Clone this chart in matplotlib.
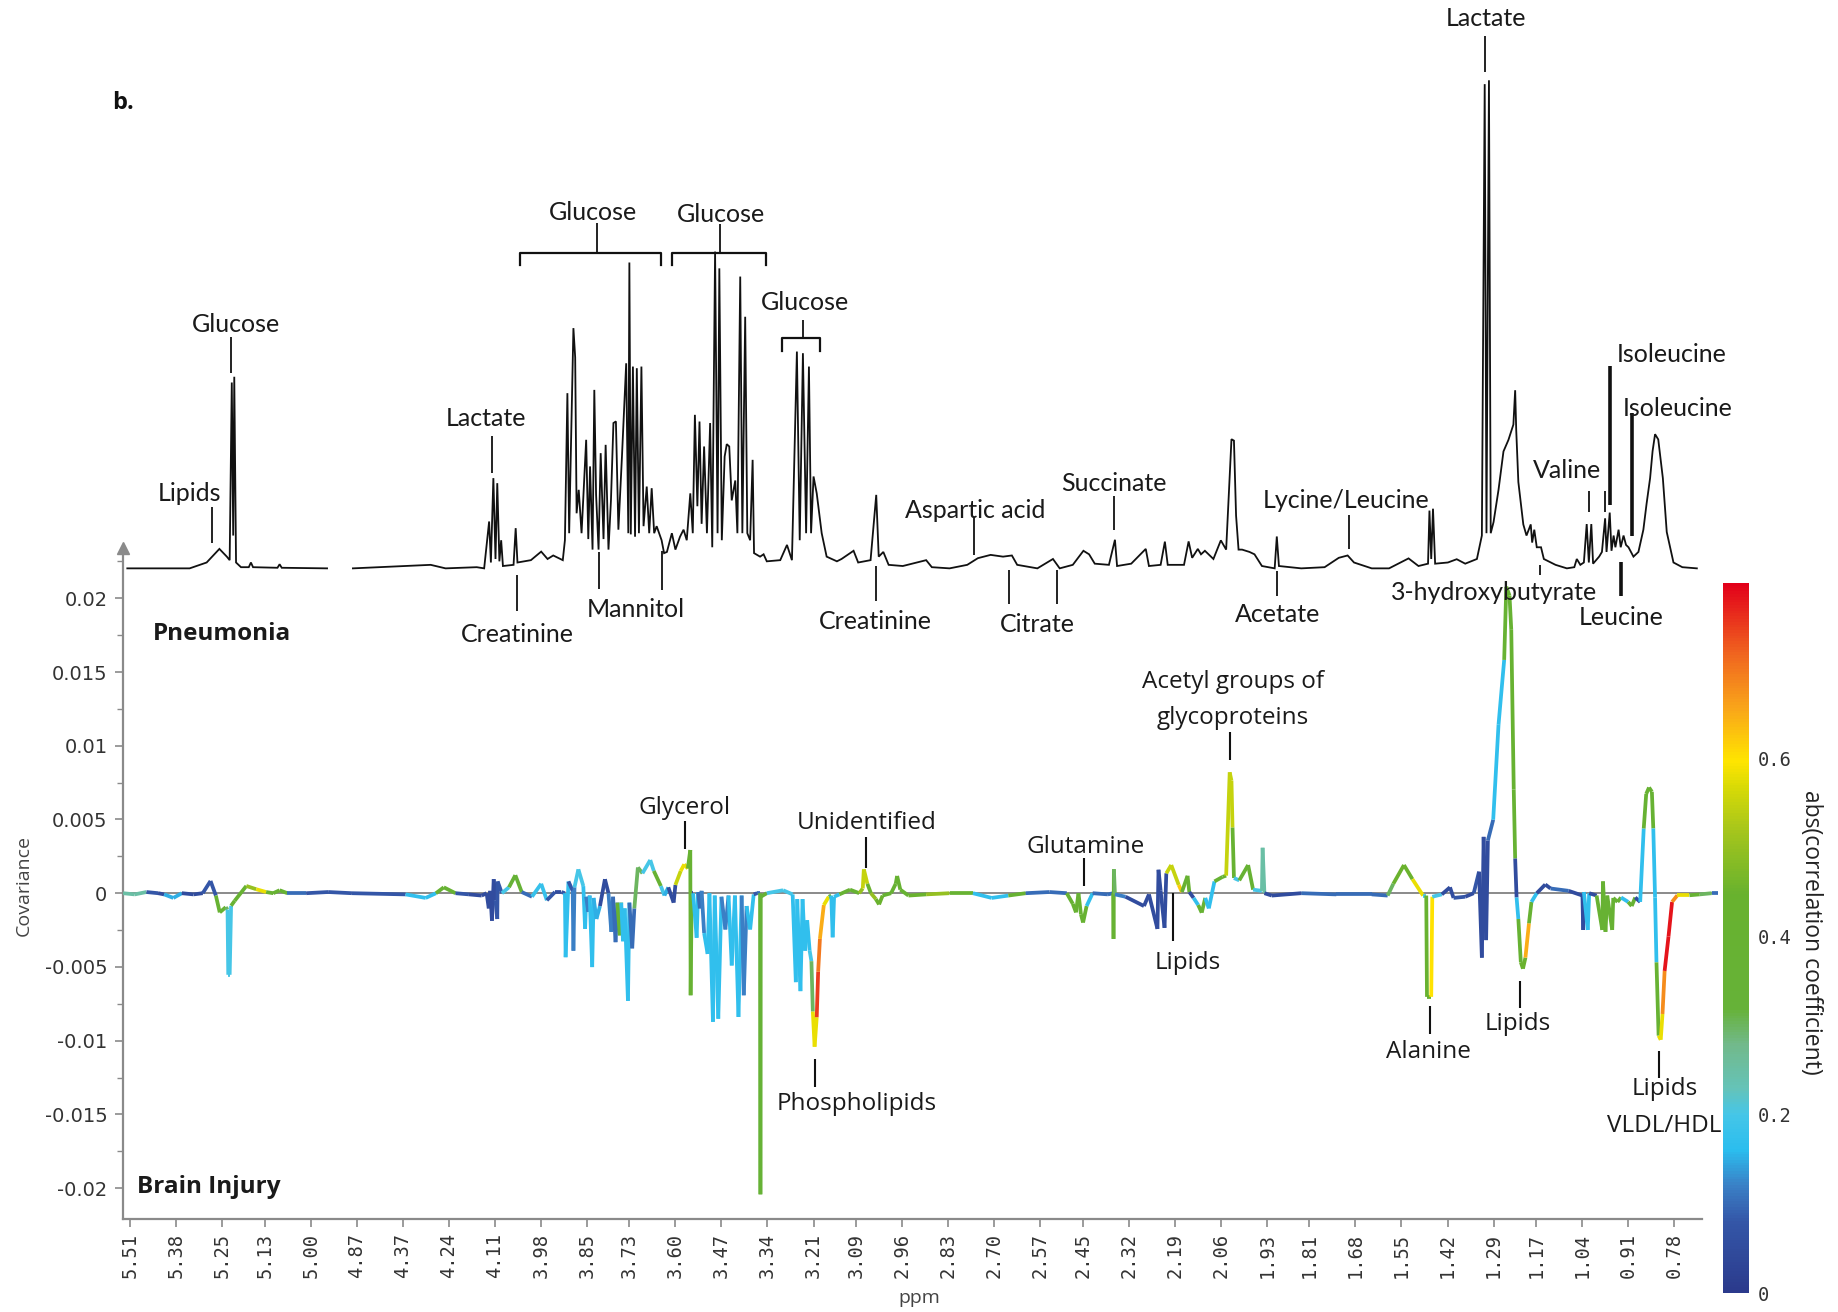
import numpy as np
import matplotlib
matplotlib.use("Agg")
import matplotlib.pyplot as plt
from matplotlib.collections import LineCollection
from matplotlib.colors import LinearSegmentedColormap, Normalize
from matplotlib.cm import ScalarMappable
from matplotlib.ticker import FixedLocator, NullLocator, MultipleLocator, FuncFormatter

# ---------------- data ----------------
tick_labels = ["5.51", "5.38", "5.25", "5.13", "5.00", "4.87", "4.37", "4.24", "4.11",
               "3.98", "3.85", "3.73", "3.60", "3.47", "3.34", "3.21", "3.09", "2.96",
               "2.83", "2.70", "2.57", "2.45", "2.32", "2.19", "2.06", "1.93", "1.81",
               "1.68", "1.55", "1.42", "1.29", "1.17", "1.04", "0.91", "0.78"]
cbar_ticks = [0, 0.2, 0.4, 0.6]
cbar_max = 0.797

# reference 1H NMR spectrum (ppm, relative intensity)
spectrum_left = [(5.518, 0), (5.342, 0), (5.294, 5), (5.258, 16.6), (5.237, 10), (5.229, 7),
                 (5.223, 158.6), (5.219, 28), (5.216, 163.5), (5.211, 5), (5.197, 1),
                 (5.175, 1), (5.169, 5), (5.163, 1), (5.094, 0.5), (5.088, 3.5), (5.082, 0.5),
                 (4.954, 0)]

spectrum_right = [
    (4.881, 0), (4.291, 3), (4.249, 0), (4.161, 1), (4.140, 0), (4.126, 40), (4.121, 5),
    (4.114, 77), (4.108, 8), (4.103, 72.7), (4.097, 6), (4.092, 24), (4.087, 2), (4.057, 3),
    (4.051, 34.3), (4.046, 5), (4.027, 6), (4.008, 7), (3.979, 14.3), (3.961, 8), (3.945, 11),
    (3.918, 7), (3.912, 24), (3.905, 149.5), (3.900, 30), (3.888, 205), (3.883, 180),
    (3.879, 47), (3.873, 67), (3.865, 30), (3.852, 109.7), (3.846, 25), (3.841, 87),
    (3.834, 16), (3.829, 152.3), (3.824, 63), (3.817, 16), (3.811, 98.3), (3.803, 25),
    (3.797, 105.4), (3.789, 16), (3.782, 58), (3.775, 124), (3.768, 125.4), (3.761, 33),
    (3.751, 95), (3.739, 175), (3.733, 30), (3.730, 261), (3.726, 29), (3.720, 172.2),
    (3.714, 27), (3.709, 170.8), (3.703, 30), (3.696, 172.2), (3.690, 36), (3.681, 69.8),
    (3.674, 30), (3.667, 68.4), (3.660, 30), (3.653, 36), (3.639, 24), (3.632, 13),
    (3.624, 14), (3.610, 30), (3.600, 16), (3.587, 27), (3.577, 33), (3.568, 24),
    (3.558, 64), (3.551, 30), (3.545, 131), (3.538, 53), (3.532, 125.3), (3.526, 38),
    (3.519, 104), (3.511, 30), (3.502, 124), (3.496, 18), (3.488, 270.3), (3.481, 30),
    (3.476, 256), (3.469, 24), (3.461, 95.4), (3.455, 106), (3.448, 104), (3.441, 58),
    (3.431, 75), (3.425, 30), (3.417, 249), (3.411, 30), (3.403, 214.7), (3.397, 30),
    (3.389, 24), (3.382, 92.6), (3.378, 13), (3.361, 10), (3.351, 12), (3.342, 6),
    (3.304, 7), (3.285, 20), (3.271, 7), (3.257, 185), (3.249, 24), (3.240, 183.6),
    (3.231, 30), (3.223, 172.2), (3.217, 30), (3.210, 78.4), (3.201, 64), (3.187, 30),
    (3.173, 10), (3.144, 6), (3.131, 8), (3.097, 15), (3.084, 5), (3.049, 7), (3.033, 62.7),
    (3.026, 10), (3.013, 14), (2.998, 3), (2.958, 2), (2.892, 7), (2.876, 1), (2.826, 0),
    (2.776, 3), (2.746, 8.7), (2.710, 11.5), (2.675, 10), (2.650, 11), (2.635, 3),
    (2.578, 0), (2.534, 8), (2.515, 0), (2.478, 3), (2.448, 15), (2.432, 12), (2.416, 4),
    (2.376, 3), (2.359, 24.4), (2.353, 2), (2.313, 4), (2.272, 16.6), (2.263, 2),
    (2.230, 3), (2.218, 22.8), (2.210, 3), (2.164, 3), (2.151, 23), (2.141, 9),
    (2.125, 16.6), (2.116, 12), (2.105, 15), (2.081, 8), (2.060, 23.9), (2.045, 16),
    (2.035, 80), (2.030, 110.2), (2.023, 109), (2.017, 45), (2.010, 16), (2.000, 16),
    (1.979, 14), (1.965, 12), (1.944, 2), (1.908, 0), (1.902, 27.2), (1.896, 2),
    (1.833, 0), (1.767, 1), (1.727, 9), (1.702, 11), (1.684, 5), (1.634, 0), (1.585, 0),
    (1.530, 8.5), (1.502, 2), (1.475, 4), (1.471, 49.3), (1.466, 8), (1.461, 50.9),
    (1.455, 4), (1.419, 5), (1.394, 7.8), (1.370, 4), (1.337, 8), (1.323, 28),
    (1.315, 413.2), (1.310, 30), (1.303, 416.5), (1.298, 30), (1.290, 39.5), (1.276, 67),
    (1.262, 99.8), (1.248, 109.6), (1.234, 122.7), (1.229, 152), (1.226, 118),
    (1.220, 73.7), (1.206, 37.5), (1.197, 28), (1.185, 37.5), (1.181, 22), (1.175, 33),
    (1.168, 18), (1.156, 18), (1.148, 8), (1.115, 3), (1.083, 0), (1.062, 1), (1.055, 8),
    (1.045, 3), (1.035, 5), (1.027, 37.8), (1.021, 5), (1.014, 37.8), (1.009, 4),
    (0.992, 10), (0.984, 14), (0.975, 42.7), (0.971, 14), (0.962, 47.6), (0.957, 15),
    (0.951, 28), (0.946, 18), (0.937, 33), (0.931, 18), (0.923, 28), (0.916, 20),
    (0.909, 18), (0.895, 10), (0.881, 14), (0.867, 33), (0.858, 55), (0.848, 77),
    (0.841, 100), (0.834, 114.5), (0.825, 110), (0.812, 77), (0.801, 31), (0.782, 5),
    (0.757, 1), (0.716, 0)]

# covariance (ppm, covariance x 1e-3, abs(correlation coefficient))
covariance = [
    (5.530, 0, 0.10), (5.497, -0.08, 0.25), (5.464, 0.08, 0.08), (5.431, 0, 0.38),
    (5.414, -0.08, 0.05), (5.388, -0.32, 0.15), (5.364, 0, 0.08), (5.331, -0.08, 0.05),
    (5.305, 0, 0.05), (5.283, 0.83, 0.08), (5.268, -0.16, 0.15), (5.257, -1.30, 0.38),
    (5.240, -0.95, 0.40), (5.235, -1.11, 0.30), (5.233, -5.53, 0.20), (5.229, -5.53, 0.20),
    (5.225, -0.85, 0.38), (5.215, -0.52, 0.40), (5.182, 0.49, 0.50), (5.154, 0.27, 0.58),
    (5.126, 0.08, 0.40), (5.106, 0, 0.15), (5.088, 0.20, 0.40), (5.066, 0, 0.10),
    (5.013, 0, 0.05), (4.951, 0.08, 0.08), (4.884, 0, 0.05),
    (4.362, -0.08, 0.08), (4.305, -0.32, 0.17), (4.276, 0, 0.25), (4.254, 0.40, 0.38),
    (4.221, 0, 0.10), (4.183, -0.08, 0.08), (4.147, -0.16, 0.05), (4.133, 0, 0.05),
    (4.127, -1.03, 0.05), (4.123, 0.16, 0.05), (4.118, -1.87, 0.05), (4.113, 0.95, 0.05),
    (4.108, -0.48, 0.05), (4.103, -1.75, 0.08), (4.102, 0.80, 0.08), (4.090, 0, 0.15),
    (4.070, 0.40, 0.20), (4.052, 1.22, 0.35), (4.034, 0.08, 0.15), (4.005, -0.24, 0.10),
    (3.979, 0.64, 0.18), (3.963, -0.48, 0.08), (3.940, 0.08, 0.05), (3.922, 0.08, 0.08),
    (3.912, 0, 0.15), (3.910, -4.34, 0.17), (3.902, 0.80, 0.08), (3.890, 0.16, 0.10),
    (3.888, -3.90, 0.12), (3.885, 0.40, 0.10), (3.874, 1.62, 0.20), (3.860, 0.48, 0.10),
    (3.855, -2.42, 0.17), (3.852, -0.24, 0.10), (3.846, -1.27, 0.12), (3.842, -0.16, 0.10),
    (3.835, -5.01, 0.17), (3.831, -0.32, 0.10), (3.823, -1.75, 0.15), (3.813, -0.87, 0.10),
    (3.799, 0.95, 0.05), (3.789, 0, 0.08), (3.781, -2.62, 0.12), (3.776, -0.24, 0.10),
    (3.769, -3.32, 0.10), (3.764, -0.64, 0.10), (3.757, -2.86, 0.38), (3.753, -0.64, 0.10),
    (3.748, -3.26, 0.17), (3.743, -1.03, 0.10), (3.734, -7.30, 0.17), (3.730, -0.64, 0.10),
    (3.722, -3.74, 0.10), (3.716, -1.03, 0.15), (3.706, 1.75, 0.30), (3.693, 1.35, 0.38),
    (3.671, 2.25, 0.20), (3.661, 1.51, 0.38), (3.641, 0.48, 0.20), (3.631, -0.16, 0.10),
    (3.620, 0.40, 0.15), (3.605, -0.64, 0.05), (3.600, 0.56, 0.38), (3.585, 1.51, 0.55),
    (3.575, 1.96, 0.58), (3.565, 1.67, 0.50), (3.558, 2.93, 0.40), (3.557, -6.92, 0.38),
    (3.554, 0, 0.05), (3.550, 0, 0.05), (3.540, -3.02, 0.17), (3.536, 0.08, 0.05),
    (3.531, -1.03, 0.10), (3.526, 0.16, 0.05), (3.519, -2.70, 0.12), (3.509, -4.12, 0.17),
    (3.504, 0, 0.08), (3.494, -8.72, 0.17), (3.489, -0.16, 0.08), (3.479, -8.51, 0.17),
    (3.470, -0.24, 0.08), (3.459, -2.46, 0.12), (3.450, -0.16, 0.08), (3.441, -4.90, 0.17),
    (3.432, -0.16, 0.08), (3.422, -8.39, 0.17), (3.413, -0.16, 0.08), (3.407, -6.92, 0.12),
    (3.399, -0.87, 0.10), (3.389, -2.46, 0.17), (3.379, -0.08, 0.08), (3.369, 0, 0.10),
    (3.361, 0, 0.35), (3.360, -20.42, 0.35), (3.359, -0.24, 0.35), (3.342, 0, 0.10),
    (3.296, 0.20, 0.20), (3.269, -0.08, 0.10), (3.260, -6.03, 0.17), (3.256, -0.40, 0.10),
    (3.247, -6.64, 0.17), (3.241, -0.40, 0.10), (3.234, -3.90, 0.17), (3.228, -1.83, 0.38),
    (3.221, -3.90, 0.17), (3.216, -4.61, 0.20), (3.212, -8.03, 0.30), (3.207, -10.41, 0.58),
    (3.201, -8.41, 0.75), (3.197, -5.33, 0.70), (3.192, -3.10, 0.65), (3.181, -0.80, 0.58),
    (3.167, -0.24, 0.38), (3.160, -0.16, 0.17), (3.156, -2.99, 0.17), (3.152, -0.24, 0.17),
    (3.137, -0.08, 0.30), (3.107, 0.24, 0.38), (3.081, 0, 0.40), (3.071, 0.32, 0.50),
    (3.068, 1.62, 0.55), (3.058, 0.64, 0.45), (3.048, 0, 0.10), (3.034, -0.40, 0.50),
    (3.025, -0.76, 0.45), (3.015, -0.16, 0.38), (2.991, 0, 0.10), (2.978, 0.64, 0.38),
    (2.974, 1.17, 0.40), (2.965, 0.24, 0.38), (2.942, -0.16, 0.45), (2.892, -0.08, 0.50),
    (2.826, 0, 0.40), (2.760, 0, 0.10), (2.707, -0.32, 0.17), (2.660, -0.16, 0.40),
    (2.611, 0, 0.10), (2.544, 0.08, 0.10), (2.495, 0, 0.10), (2.478, -0.72, 0.38),
    (2.469, -1.30, 0.40), (2.462, 0, 0.05), (2.455, -1.43, 0.38), (2.449, -1.99, 0.40),
    (2.439, -0.87, 0.17), (2.422, 0, 0.17), (2.379, -0.08, 0.10), (2.364, 0, 0.30),
    (2.363, -3.10, 0.38), (2.362, 1.63, 0.30), (2.359, -0.08, 0.15), (2.329, -0.24, 0.12),
    (2.277, -0.87, 0.05), (2.263, -0.08, 0.10), (2.239, -2.42, 0.05), (2.236, 1.59, 0.05),
    (2.230, 0.16, 0.08), (2.219, -2.35, 0.05), (2.214, 1.35, 0.40), (2.200, 1.91, 0.55),
    (2.179, 0.56, 0.62), (2.170, 0.08, 0.40), (2.154, 1.18, 0.38), (2.149, 0.08, 0.38),
    (2.137, -0.32, 0.05), (2.124, -0.80, 0.17), (2.114, -1.32, 0.38), (2.104, -0.32, 0.05),
    (2.094, -1.03, 0.17), (2.078, 0.80, 0.38), (2.055, 1.11, 0.38), (2.045, 1.19, 0.40),
    (2.035, 8.20, 0.55), (2.030, 7.63, 0.55), (2.027, 4.45, 0.40), (2.023, 1.03, 0.20),
    (2.008, 0.87, 0.10), (1.983, 1.91, 0.38), (1.969, 0.24, 0.20), (1.944, 0.16, 0.15),
    (1.942, 3.08, 0.25), (1.937, 0, 0.10), (1.916, -0.16, 0.05), (1.833, 0, 0.12),
    (1.734, -0.08, 0.10), (1.634, -0.08, 0.05), (1.589, -0.16, 0.10), (1.573, 0.64, 0.30),
    (1.543, 1.91, 0.45), (1.519, 0.95, 0.58), (1.489, -0.16, 0.20), (1.480, -0.16, 0.15),
    (1.478, -7.03, 0.42), (1.466, -7.03, 0.60), (1.463, -0.24, 0.20), (1.436, -0.08, 0.05),
    (1.413, 0.40, 0.05), (1.403, -0.32, 0.08), (1.370, -0.24, 0.05), (1.346, 0, 0.05),
    (1.331, 1.46, 0.08), (1.323, -4.37, 0.05), (1.318, 3.82, 0.05), (1.311, -3.18, 0.05),
    (1.306, 3.58, 0.05), (1.291, 4.98, 0.10), (1.276, 11.42, 0.17), (1.260, 15.82, 0.17),
    (1.254, 20.78, 0.38), (1.245, 20.19, 0.38), (1.240, 17.86, 0.40), (1.233, 7.03, 0.38),
    (1.229, 2.35, 0.05), (1.225, -0.29, 0.05), (1.220, -1.75, 0.17), (1.213, -4.68, 0.38),
    (1.207, -5.12, 0.45), (1.200, -4.37, 0.65), (1.190, -2.04, 0.38), (1.183, -0.59, 0.17),
    (1.168, 0, 0.38), (1.144, 0.59, 0.05), (1.129, 0.32, 0.10), (1.078, 0.16, 0.05),
    (1.039, -0.16, 0.05), (1.037, -2.49, 0.05), (1.035, 0.08, 0.05), (1.024, -2.49, 0.17),
    (1.020, 0, 0.10), (0.999, -0.16, 0.05), (0.983, -2.49, 0.38), (0.981, 0.80, 0.17),
    (0.974, -2.62, 0.38), (0.969, -0.16, 0.15), (0.955, -2.49, 0.38), (0.952, -0.32, 0.10),
    (0.940, -0.59, 0.38), (0.930, -0.29, 0.05), (0.910, -0.59, 0.17), (0.900, -0.87, 0.38),
    (0.890, -0.29, 0.05), (0.876, -0.59, 0.05), (0.866, 4.39, 0.17), (0.859, 6.73, 0.38),
    (0.851, 7.17, 0.40), (0.843, 6.88, 0.38), (0.839, 4.39, 0.17), (0.834, -0.29, 0.05),
    (0.830, -4.69, 0.17), (0.824, -9.66, 0.38), (0.818, -9.94, 0.58), (0.813, -8.19, 0.68),
    (0.807, -5.27, 0.78), (0.796, -2.93, 0.78), (0.786, -0.59, 0.68), (0.771, -0.14, 0.58),
    (0.737, -0.14, 0.40), (0.708, -0.08, 0.30), (0.674, 0, 0.10), (0.655, 0, 0.10)]

# ---------------- scale: ppm axis with the water region compressed ----------------
P_HI, P_LO, STEP = 4.8687, 4.37, 0.12826
SHIFT = P_HI - P_LO - STEP


def fwd(p):
    p = np.asarray(p, dtype=float)
    return np.where(p >= P_HI, p - SHIFT,
                    np.where(p <= P_LO, p, P_LO + (p - P_LO) * STEP / (P_HI - P_LO)))


def inv(x):
    x = np.asarray(x, dtype=float)
    return np.where(x >= P_HI - SHIFT, x + SHIFT,
                    np.where(x <= P_LO, x, P_LO + (x - P_LO) * (P_HI - P_LO) / STEP))


X_LEFT, X_RIGHT = 5.531, 0.655

cmap = LinearSegmentedColormap.from_list("corr", [
    (0.00, "#2b3a8c"), (0.08 / 0.8, "#3457a8"), (0.12 / 0.8, "#3a80c6"),
    (0.16 / 0.8, "#2bbdee"), (0.20 / 0.8, "#45c6e8"), (0.23 / 0.8, "#65c3b8"),
    (0.28 / 0.8, "#72b98a"), (0.32 / 0.8, "#66b238"), (0.45 / 0.8, "#68b22e"),
    (0.52 / 0.8, "#a4c51c"), (0.57 / 0.8, "#d8da06"), (0.60 / 0.8, "#ffe500"),
    (0.66 / 0.8, "#f9a51a"), (0.72 / 0.8, "#f0661f"), (1.0, "#e2001a")])
norm = Normalize(0, cbar_max)

GREY = "#8a8a8a"
TXT = "#333333"

fig = plt.figure(figsize=(18.38, 13.12), dpi=100)

# ---------------- covariance axes ----------------
ax = fig.add_axes([0.06676, 0.07081, 0.8682, 0.5114])
ax.set_xscale("function", functions=(fwd, inv))
ax.set_xlim(X_LEFT, X_RIGHT)
ax.set_ylim(-0.0221, 0.0234)
ax.patch.set_alpha(0)

cp = np.array([c[0] for c in covariance])
cv = np.array([c[1] for c in covariance]) * 1e-3
cc = np.array([c[2] for c in covariance])
pts = np.column_stack([cp, cv])
segs = np.stack([pts[:-1], pts[1:]], axis=1)
# each segment takes the colour of its more extreme end (peak tip)
seg_c = np.where(np.abs(cv[1:]) > np.abs(cv[:-1]), cc[1:], cc[:-1])
lc = LineCollection(segs, colors=cmap(norm(seg_c)), linewidths=2.7,
                    capstyle="butt", joinstyle="round", zorder=3)
ax.axhline(0, color=GREY, lw=1.4, zorder=2)
ax.add_collection(lc)

for s in ["top", "right"]:
    ax.spines[s].set_visible(False)
for s in ["left", "bottom"]:
    ax.spines[s].set_color(GREY)
    ax.spines[s].set_linewidth(1.6)
ax.spines["bottom"].set_bounds(0.701, X_LEFT)
ax.plot([0], [1], marker="^", color=GREY, markersize=9, transform=ax.transAxes,
        clip_on=False, zorder=5)

ax.xaxis.set_major_locator(FixedLocator([float(t) for t in tick_labels]))
ax.xaxis.set_major_formatter(FuncFormatter(lambda v, pos: tick_labels[pos] if pos is not None and pos < len(tick_labels) else ""))
ax.xaxis.set_minor_locator(NullLocator())
ax.tick_params(axis="x", direction="out", length=6, width=1.2, color=GREY, pad=4,
               labelsize=13.5, labelcolor=TXT, labelrotation=90)
for lab in ax.get_xticklabels():
    lab.set_family("DejaVu Sans Mono")

ax.yaxis.set_major_locator(MultipleLocator(0.005))
ax.yaxis.set_minor_locator(MultipleLocator(0.0025))
ax.yaxis.set_major_formatter(FuncFormatter(lambda v, pos: "0" if abs(v) < 1e-9 else "%g" % v))
ax.tick_params(axis="y", which="major", direction="out", length=6, width=1.2, color=GREY,
               pad=5, labelsize=14, labelcolor=TXT)
ax.tick_params(axis="y", which="minor", direction="out", length=4, width=1.0, color=GREY)

# ---------------- spectrum axes ----------------
sx = fig.add_axes([0.06676, 0.5534, 0.8682, 0.4466])
sx.set_xscale("function", functions=(fwd, inv))
sx.set_xlim(X_LEFT, X_RIGHT)
sx.set_ylim(-15, 485)
sx.axis("off")
sx.patch.set_alpha(0)
for series in (spectrum_left, spectrum_right):
    sx.plot([p for p, _ in series], [v for _, v in series], color="#111111", lw=1.3,
            solid_joinstyle="miter")

# ---------------- colorbar ----------------
cax = fig.add_axes([0.9375, 0.01448, 0.01415, 0.5412])
cb = fig.colorbar(ScalarMappable(norm=norm, cmap=cmap), cax=cax)
cb.outline.set_visible(False)
cb.set_ticks(cbar_ticks)
cb.set_ticklabels(["0", "0.2", "0.4", "0.6"])
cax.tick_params(length=0, pad=6, labelsize=13.5, labelcolor=TXT)
for lab in cax.get_yticklabels():
    lab.set_family("DejaVu Sans Mono")

# ---------------- annotation overlay (reference-image pixel frame) ----------------
ov = fig.add_axes([0, 0, 1, 1])
ov.set_xlim(0, 1568)
ov.set_ylim(1119, 0)
ov.axis("off")
ov.patch.set_alpha(0)

SPEC_FONT = dict(family="Lato", fontsize=18, color="#1a1a1a", ha="center", va="center")
COV_FONT = dict(family="Open Sans", fontsize=17.5, color="#1a1a1a", ha="center", va="center")

spec_labels = [("Lipids", 162, 421), ("Glucose", 201, 277), ("Lactate", 415, 357),
               ("Glucose", 506, 181), ("Glucose", 615, 183), ("Glucose", 687, 258),
               ("Aspartic acid", 832, 435), ("Succinate", 950, 412),
               ("Lycine/Leucine", 1148, 427), ("Lactate", 1268, 16), ("Valine", 1337, 401),
               ("Isoleucine", 1426, 302), ("Isoleucine", 1431, 348),
               ("Creatinine", 441, 541), ("Mannitol", 542, 520), ("Creatinine", 747, 530),
               ("Citrate", 885, 533), ("Acetate", 1090, 524), ("3-hydroxybutyrate", 1275, 505),
               ("Leucine", 1383, 527)]
spec_lines = [(181, 432, 463, 1.3), (197, 287, 318, 1.3), (419.5, 372, 403, 1.3),
              (509, 190, 215, 1.3), (614, 191, 215, 1.3), (685, 273, 288, 1.3),
              (831, 441, 473, 1.3), (950, 423, 452, 1.3), (1150.5, 439, 468, 1.3),
              (1267, 31, 61, 1.3), (1355.6, 419, 437, 1.3), (1369.2, 419, 437, 1.3),
              (1373.5, 312, 431, 2.6), (1392.5, 352, 457, 2.6),
              (441, 490, 521, 1.3), (511, 471, 502, 1.3), (565, 470, 503, 1.3),
              (747, 483, 513, 1.3), (860.7, 486, 515, 1.3), (901.5, 486, 515, 1.3),
              (1089.5, 487, 508, 1.3), (1314, 482, 490, 1.3), (1382.5, 479, 508, 2.6)]
brackets = [(444, 564, 215.5, 226), (573.5, 653.5, 215.5, 226), (667, 699.5, 288, 299)]

cov_labels = [("Acetyl groups of", 1052, 582), ("glycoproteins", 1052, 612),
              ("Glycerol", 584, 689), ("Unidentified", 739, 702), ("Glutamine", 926, 722),
              ("Lipids", 1013, 821), ("Phospholipids", 731, 942), ("Alanine", 1219, 897),
              ("Lipids", 1295, 873), ("Lipids", 1420, 929), ("VLDL/HDL", 1420, 960)]
cov_lines = [(1049, 624, 648), (584.5, 700, 724), (738.5, 714, 740), (925, 732, 756),
             (1001, 762, 803), (695.5, 903, 927), (1220, 858, 882), (1297, 837, 860),
             (1415, 896, 919)]

for s, x, y in spec_labels:
    ov.text(x, y, s, **SPEC_FONT)
for x, y0, y1, w in spec_lines:
    ov.plot([x, x], [y0, y1], color="#111111", lw=w, solid_capstyle="butt")
for x0, x1, yt, yb in brackets:
    ov.plot([x0, x0, x1, x1], [yb, yt, yt, yb], color="#111111", lw=1.6)
for s, x, y in cov_labels:
    ov.text(x, y, s, **COV_FONT)
for x, y0, y1 in cov_lines:
    ov.plot([x, x], [y0, y1], color="#111111", lw=1.5, solid_capstyle="butt")

ov.text(105, 88, "b.", family="Open Sans", fontweight="bold", fontsize=17, color="#111111",
        ha="center", va="center")
ov.text(130, 541, "Pneumonia", family="Open Sans", fontweight="bold", fontsize=17.5,
        color="#1a1a1a", ha="left", va="center")
ov.text(117, 1012, "Brain Injury", family="Open Sans", fontweight="bold", fontsize=17.5,
        color="#1a1a1a", ha="left", va="center")
ov.text(20, 755, "Covariance", family="Open Sans", fontsize=14, color="#444444",
        rotation=90, ha="center", va="center")
ov.text(784, 1107, "ppm", family="Open Sans", fontsize=14, color="#444444",
        ha="center", va="center")
ov.text(1545, 795, "abs(correlation coefficient)", family="Open Sans", fontsize=16.5,
        color="#222222", rotation=270, ha="center", va="center")

fig.savefig("out.png", dpi=100)
